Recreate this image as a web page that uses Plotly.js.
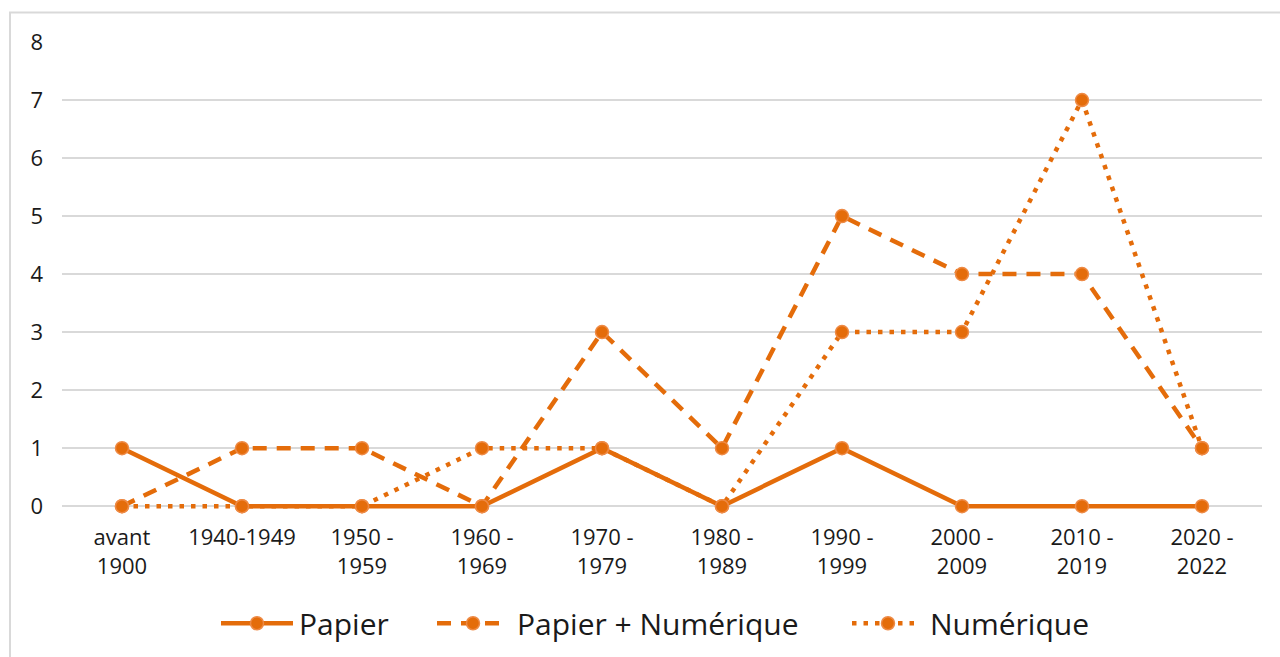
<!DOCTYPE html>
<html>
<head>
<meta charset="utf-8">
<script src="https://cdn.plot.ly/plotly-3.0.1.min.js"></script>
<style>
html,body{margin:0;padding:0;background:#fff;overflow:hidden;}
#chart{width:1280px;height:657px;}
</style>
</head>
<body>
<div id="chart"></div>
<script>
const categories = ["avant<br>1900", "1940-1949", "1950 -<br>1959", "1960 -<br>1969", "1970 -<br>1979", "1980 -<br>1989", "1990 -<br>1999", "2000 -<br>2009", "2010 -<br>2019", "2020 -<br>2022"];
const papier = [1, 0, 0, 0, 1, 0, 1, 0, 0, 0];
const papierNumerique = [0, 1, 1, 0, 3, 1, 5, 4, 4, 1];
const numerique = [0, 0, 0, 1, 1, 0, 3, 3, 7, 1];
const seriesNames = ["Papier", "Papier + Numérique", "Numérique"];

const col = "#E46C0A";
const outline = "#EE8A45";
const LW = 4.5;
const dashes = ["solid", "14px,10px", "4.5px,7px"];
const marker = {size: 13, color: col, line: {color: outline, width: 1.5}};
const idx = categories.map((c, i) => i);
const values = [papier, papierNumerique, numerique];

const traces = values.map((v, k) => ({
  x: idx, y: v, name: seriesNames[k], type: "scatter", mode: "lines+markers",
  line: {color: col, width: LW, dash: dashes[k]}, marker: marker,
  cliponaxis: false, showlegend: false
}));

const L = 62, R = 18, T = 42;
const yMin = -0.1, yMax = 8, PXU = 58;
const H = (yMax - yMin) * PXU;
const B = 657 - T - H;
const W = 1280 - L - R;
const px = x => (x - L) / W;
const py = y => (657 - B - y) / H;

const font = "'Open Sans', sans-serif";
const shapes = [{
  type: "rect", xref: "paper", yref: "paper", layer: "below",
  x0: px(10), x1: px(1295), y0: py(675), y1: py(12.5),
  line: {color: "#d9d9d9", width: 2}, fillcolor: "rgba(0,0,0,0)"
}];
const annotations = [];

// custom legend: [lineStart, lineEnd, markerX, textX]
const legendPos = [[221, 293, 257, 297], [437, 502, 473, 515], [852, 917, 888, 928]];
const legY = 623;
legendPos.forEach((p, k) => {
  shapes.push({type: "line", xref: "paper", yref: "paper",
    x0: px(p[0]), x1: px(p[1]), y0: py(legY), y1: py(legY),
    line: {color: col, width: LW, dash: dashes[k]}});
  shapes.push({type: "circle", xref: "paper", yref: "paper",
    x0: px(p[2] - 6.5), x1: px(p[2] + 6.5), y0: py(legY + 6.5), y1: py(legY - 6.5),
    fillcolor: col, line: {color: outline, width: 1.5}});
  annotations.push({xref: "paper", yref: "paper", x: px(p[3]), y: py(legY),
    xanchor: "left", yanchor: "middle", showarrow: false, text: seriesNames[k],
    font: {family: font, size: 30, color: "#1a1a1a"}});
});

const layout = {
  width: 1280, height: 657,
  margin: {l: L, r: R, t: T, b: B, pad: 0},
  paper_bgcolor: "#fff", plot_bgcolor: "#fff",
  font: {family: font, color: "#1a1a1a"},
  xaxis: {
    tickmode: "array", tickvals: idx, ticktext: categories,
    range: [-0.5, 9.5], showgrid: false, zeroline: false, showline: false,
    ticks: "", ticklabelstandoff: 10, tickfont: {size: 22, color: "#1a1a1a"}, fixedrange: true
  },
  yaxis: {
    range: [yMin, yMax], tickmode: "array", tickvals: [0,1,2,3,4,5,6,7,8],
    showgrid: true, gridcolor: "#d9d9d9", gridwidth: 2,
    zeroline: false, showline: false, ticks: "", ticklabelstandoff: 18,
    tickfont: {size: 22, color: "#1a1a1a"}, fixedrange: true
  },
  showlegend: false,
  shapes: shapes,
  annotations: annotations
};

Plotly.newPlot("chart", traces, layout, {displayModeBar: false, staticPlot: true});
</script>
</body>
</html>
